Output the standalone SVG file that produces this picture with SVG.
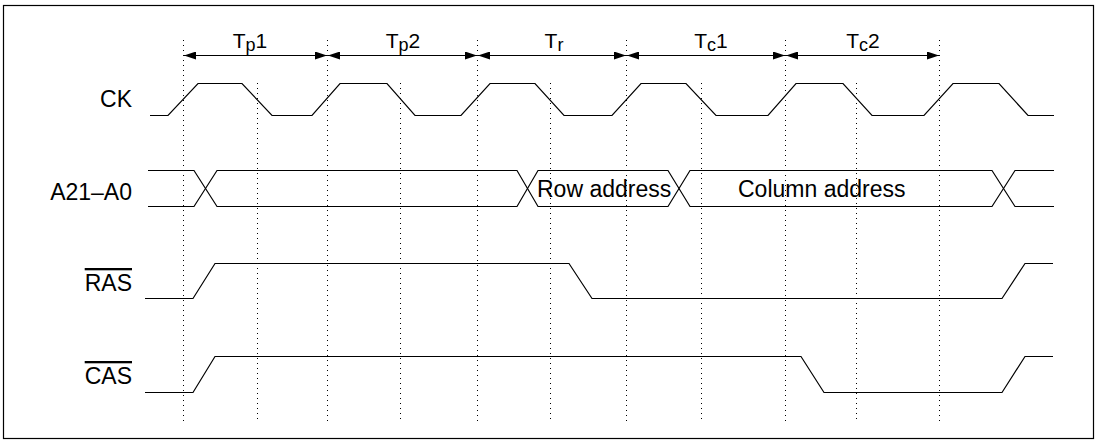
<svg xmlns="http://www.w3.org/2000/svg" width="1099" height="443" viewBox="0 0 1099 443">
<style>
.wave{fill:none;stroke:#000;stroke-width:1.2;stroke-linejoin:miter}
.dot{stroke:#000;stroke-width:1;stroke-dasharray:1 4}
.arr{stroke:#000;stroke-width:1.2;marker-start:url(#ah);marker-end:url(#ah)}
.lab{font-family:"Liberation Sans",Arial,sans-serif;font-size:23px;fill:#000}
.per{font-family:"Liberation Sans",Arial,sans-serif;font-size:21px;fill:#000}
.sub{font-size:18px}
.ov{text-decoration:overline}
</style>
<defs>
<marker id="ah" viewBox="0 0 12 8" refX="12" refY="4" markerWidth="12" markerHeight="8" markerUnits="userSpaceOnUse" orient="auto-start-reverse">
<path d="M0,0 L12,4 L0,8 Z" fill="#000"/>
</marker>
</defs>
<rect x="3.5" y="5.5" width="1090" height="433" fill="#fff" stroke="#000" stroke-width="1.2"/>
<g id="gridlines">
<line class="dot" x1="183.5" y1="40" x2="183.5" y2="423"/>
<line class="dot" x1="327.5" y1="40" x2="327.5" y2="423"/>
<line class="dot" x1="477.5" y1="40" x2="477.5" y2="423"/>
<line class="dot" x1="626.5" y1="40" x2="626.5" y2="423"/>
<line class="dot" x1="785.5" y1="40" x2="785.5" y2="423"/>
<line class="dot" x1="939.5" y1="40" x2="939.5" y2="423"/>
<line class="dot" x1="257.5" y1="83" x2="257.5" y2="420"/>
<line class="dot" x1="400.5" y1="83" x2="400.5" y2="420"/>
<line class="dot" x1="550.5" y1="83" x2="550.5" y2="420"/>
<line class="dot" x1="701.5" y1="83" x2="701.5" y2="420"/>
<line class="dot" x1="856.5" y1="83" x2="856.5" y2="420"/>
</g>
<g id="connectors">
<line class="arr" x1="184" y1="55.5" x2="327" y2="55.5"/>
<line class="arr" x1="328" y1="55.5" x2="477" y2="55.5"/>
<line class="arr" x1="478" y1="55.5" x2="626" y2="55.5"/>
<line class="arr" x1="627" y1="55.5" x2="785" y2="55.5"/>
<line class="arr" x1="786" y1="55.5" x2="939" y2="55.5"/>
</g>
<g id="periods">
<text class="per" x="250" y="48" text-anchor="middle">T<tspan class="sub" dy="3">p</tspan><tspan dy="-3">1</tspan></text>
<text class="per" x="403" y="48" text-anchor="middle">T<tspan class="sub" dy="3">p</tspan><tspan dy="-3">2</tspan></text>
<text class="per" x="554" y="48" text-anchor="middle">T<tspan class="sub" dy="3">r</tspan></text>
<text class="per" x="711" y="48" text-anchor="middle">T<tspan class="sub" dy="3">c</tspan><tspan dy="-3">1</tspan></text>
<text class="per" x="863" y="48" text-anchor="middle">T<tspan class="sub" dy="3">c</tspan><tspan dy="-3">2</tspan></text>
</g>
<g id="ck">
<text class="lab" x="132" y="107" text-anchor="end">CK</text>
<path class="wave" d="M150,115.5 H168 L198,83.5 H242 L272,115.5 H312 L340,83.5 H387 L415,115.5 H461 L490,83.5 H535 L564,115.5 H612 L641,83.5 H686 L716,115.5 H768 L796,83.5 H843 L872,115.5 H924 L953,83.5 H999 L1028,115.5 H1054"/>
</g>
<g id="addr">
<text class="lab" x="132" y="200" text-anchor="end">A21–A0</text>
<path class="wave" d="M148,170.5 H194 L217,206.5 H517 L538,170.5 H668 L690,206.5 H992 L1015,170.5 H1054"/>
<path class="wave" d="M148,206.5 H194 L217,170.5 H517 L538,206.5 H668 L690,170.5 H992 L1015,206.5 H1054"/>
<text class="lab" x="537" y="197">Row address</text>
<text class="lab" x="738" y="197">Column address</text>
</g>
<g id="ras">
<text class="lab ov" x="132" y="291" text-anchor="end">RAS</text>
<path class="wave" d="M145,298.5 H193 L215,263.5 H569 L592,298.5 H1002 L1025,263.5 H1053"/>
</g>
<g id="cas">
<text class="lab ov" x="132" y="384" text-anchor="end">CAS</text>
<path class="wave" d="M145,392.5 H193 L215,356.5 H801 L824,392.5 H1002 L1025,356.5 H1053"/>
</g>
</svg>
